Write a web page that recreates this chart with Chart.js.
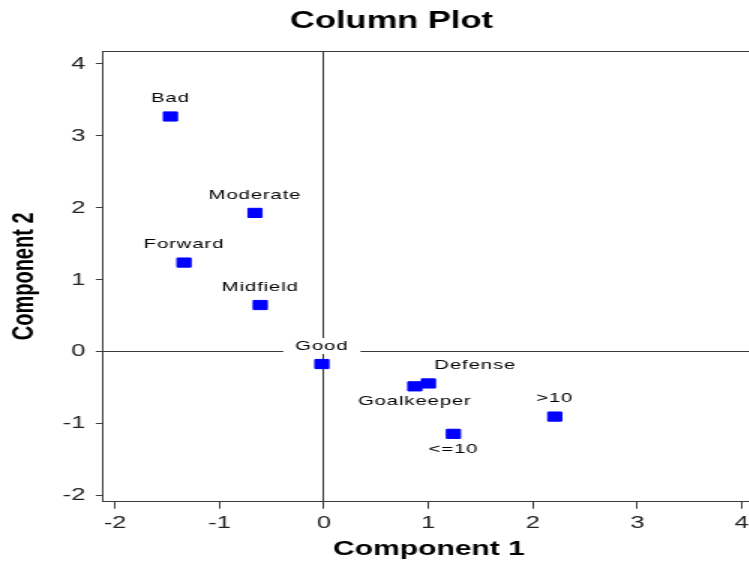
<!DOCTYPE html>
<html>
<head>
<meta charset="utf-8">
<script src="https://cdn.jsdelivr.net/npm/chart.js@4"></script>
<style>
    html, body { margin: 0; padding: 0; background: #fff; overflow: hidden; }
    /* the source picture is stretched sideways, so the canvas is too */
    #columnPlot { transform: scaleX(1.5); transform-origin: 0 0; display: block; }
</style>
</head>
<body>
<canvas id="columnPlot" width="522" height="563"></canvas>
<script>
// COLUMN PLOT

const categories = ['Bad', 'Moderate', 'Forward', 'Midfield', 'Good', 'Goalkeeper', 'Defense', '>10', '<=10'];
const component1 = [-1.47, -0.66, -1.34, -0.61, -0.02, 0.87, 1.00, 2.21, 1.24];
const component2 = [3.27, 1.93, 1.24, 0.65, -0.17, -0.48, -0.44, -0.90, -1.14];

// where each label sits relative to its point
const placement = ['above', 'above', 'above', 'above', 'above', 'below', 'aboveRight', 'above', 'below'];

const lineColor = '#3a3a3a';
const font = '"Liberation Sans", Arial, sans-serif';

const points = categories.map((c, i) => ({ x: component1[i], y: component2[i] }));

// labels with a white box behind them (the box cuts the zero lines at "Good")
const pointLabels = {
    id: 'pointLabels',
    beforeDatasetsDraw(chart) {
        const ctx = chart.ctx;
        const area = chart.chartArea;
        ctx.save();
        // frame on top / right
        ctx.strokeStyle = lineColor;
        ctx.lineWidth = 1;
        ctx.beginPath();
        ctx.moveTo(area.left, Math.round(area.top) + 0.5);
        ctx.lineTo(area.right, Math.round(area.top) + 0.5);
        ctx.lineTo(area.right, area.bottom);
        ctx.stroke();

        ctx.font = '13.5px ' + font;
        ctx.letterSpacing = '0.6px';
        ctx.textBaseline = 'middle';
        chart.getDatasetMeta(0).data.forEach((pt, i) => {
            let x = pt.x;
            let y = pt.y;
            let align = 'center';
            if (placement[i] === 'below') {
                y += 15;
            } else {
                y -= 18;
            }
            if (placement[i] === 'aboveRight') {
                align = 'left';
                x += 4;
            }
            const w = ctx.measureText(categories[i]).width;
            const left = align === 'left' ? x : x - w / 2;
            ctx.fillStyle = '#fff';
            ctx.fillRect(left - 8, y - 8, w + 16, 16);
            ctx.fillStyle = '#000';
            ctx.textAlign = align;
            ctx.fillText(categories[i], x, y);
        });
        ctx.restore();
    }
};

const zeroLine = (ctx) => (ctx.tick && ctx.tick.value === 0 ? lineColor : 'rgba(0,0,0,0)');

new Chart(document.getElementById('columnPlot'), {
    type: 'scatter',
    data: {
        labels: categories,
        datasets: [
            {
                label: 'Columns',
                data: points,
                pointStyle: 'rect',
                pointRadius: 6.5,
                pointHoverRadius: 6.5,
                backgroundColor: '#0000ff',
                borderColor: '#0000ff',
                borderWidth: 1
            }
        ]
    },
    options: {
        responsive: false,
        animation: false,
        devicePixelRatio: 1,
        layout: { padding: { left: 19, right: 19, top: 0, bottom: 0 } },
        plugins: {
            legend: { display: false },
            tooltip: { enabled: false },
            title: {
                display: true,
                text: 'Column Plot',
                color: '#000',
                font: { family: font, size: 23, weight: 'bold' },
                padding: { top: 8, bottom: 15.4 }
            }
        },
        scales: {
            x: {
                type: 'linear',
                min: -2.112,
                max: 4.122,
                afterFit: (scale) => { scale.height = 61.3; },
                ticks: {
                    stepSize: 1,
                    includeBounds: false,
                    color: '#222',
                    padding: 4,
                    font: { family: font, size: 17 }
                },
                grid: { color: zeroLine, tickColor: lineColor, tickLength: 7, lineWidth: 1 },
                border: { color: lineColor, width: 1 },
                title: {
                    display: true,
                    text: 'Component 1',
                    color: '#000',
                    font: { family: font, size: 20, weight: 'bold' },
                    padding: { top: 0, bottom: 2 }
                }
            },
            y: {
                type: 'linear',
                min: -2.083,
                max: 4.18,
                afterFit: (scale) => { scale.width = 49.9; },
                ticks: {
                    stepSize: 1,
                    includeBounds: false,
                    color: '#222',
                    padding: 7,
                    font: { family: font, size: 17 }
                },
                grid: { color: zeroLine, tickColor: lineColor, tickLength: 5, lineWidth: 1 },
                border: { color: lineColor, width: 1 },
                title: {
                    display: true,
                    text: 'Component 2',
                    color: '#000',
                    font: { family: font, size: 20, weight: 'bold' },
                    padding: { top: -15, bottom: 0 }
                }
            }
        }
    },
    plugins: [pointLabels]
});
</script>
</body>
</html>
